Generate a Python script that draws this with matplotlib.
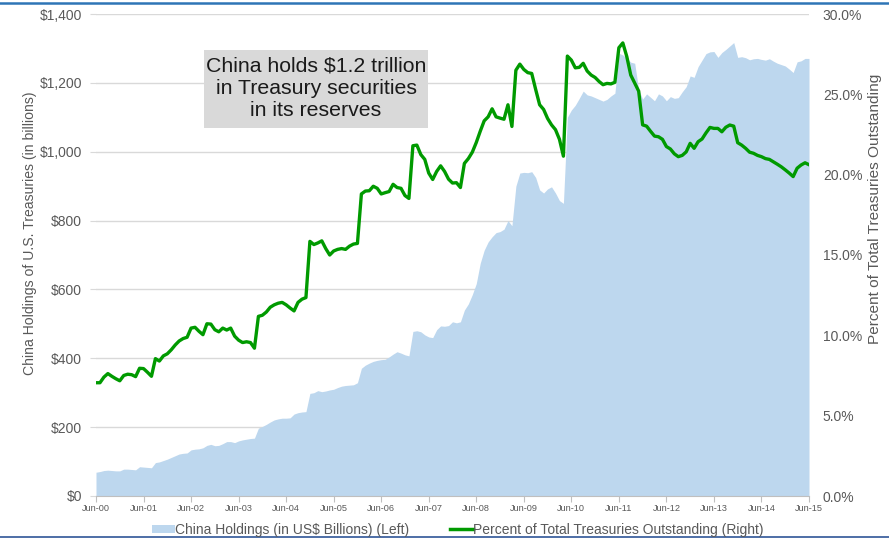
import matplotlib.pyplot as plt
import numpy as np
from matplotlib.lines import Line2D
from matplotlib.patches import Patch, Rectangle
from matplotlib.ticker import FuncFormatter

plt.rcParams['font.family'] = ['Liberation Sans', 'DejaVu Sans']

# monthly, Jun-2000 .. Jun-2015
year_labels = ['Jun-00', 'Jun-01', 'Jun-02', 'Jun-03', 'Jun-04', 'Jun-05', 'Jun-06', 'Jun-07',
               'Jun-08', 'Jun-09', 'Jun-10', 'Jun-11', 'Jun-12', 'Jun-13', 'Jun-14', 'Jun-15']

# China holdings of US Treasuries, $ billions
holdings = [
    69, 71, 74, 75, 74, 73, 73, 78, 78, 77, 76, 85,
    84, 83, 82, 97, 99, 103, 107, 112, 117, 122, 124, 125,
    134, 136, 137, 140, 147, 150, 146, 147, 152, 158, 158, 155,
    160, 163, 165, 167, 168, 197, 202, 208, 215, 221, 224, 226,
    226, 227, 238, 242, 244, 245, 298, 300, 306, 303, 305, 308,
    310, 315, 319, 321, 322, 323, 329, 371, 380, 386, 391, 394,
    396, 397, 404, 412, 419, 415, 410, 407, 478, 480, 477, 468,
    462, 460, 483, 494, 493, 495, 506, 503, 506, 540, 558, 585,
    617, 676, 714, 738, 753, 765, 768, 775, 800, 785, 900, 938,
    940, 939, 942, 925, 889, 880, 892, 898, 880, 858, 850, 1100,
    1121, 1135, 1155, 1176, 1165, 1162, 1157, 1152, 1147, 1152, 1162, 1170,
    1286, 1281, 1272, 1260, 1257, 1180, 1153, 1168, 1158, 1148, 1168, 1162,
    1148, 1160, 1155, 1157, 1174, 1189, 1220, 1216, 1247, 1266, 1285, 1290,
    1291, 1274, 1288, 1297, 1307, 1317, 1274, 1276, 1273, 1267, 1270, 1271,
    1268, 1266, 1270, 1263, 1257, 1253, 1249, 1240, 1230, 1261, 1264, 1271,
    1271,
]

# share of total treasuries outstanding, %
share_pct = [
    7.05, 7.05, 7.4, 7.62, 7.45, 7.3, 7.17, 7.5, 7.58, 7.55, 7.43, 7.95,
    7.93, 7.7, 7.45, 8.55, 8.4, 8.72, 8.85, 9.1, 9.4, 9.65, 9.8, 9.88,
    10.45, 10.5, 10.25, 10.04, 10.72, 10.7, 10.35, 10.22, 10.45, 10.33, 10.45, 9.95,
    9.7, 9.55, 9.6, 9.55, 9.2, 11.18, 11.25, 11.45, 11.75, 11.9, 12.0, 12.05,
    11.9, 11.7, 11.52, 12.05, 12.25, 12.35, 15.85, 15.65, 15.75, 15.88, 15.4, 15.0,
    15.25, 15.35, 15.4, 15.35, 15.55, 15.68, 15.72, 18.8, 18.98, 19.0, 19.28, 19.15,
    18.8, 18.88, 18.95, 19.4, 19.2, 19.15, 18.7, 18.52, 21.8, 21.84, 21.25, 20.95,
    20.1, 19.7, 20.2, 20.55, 20.2, 19.72, 19.48, 19.5, 19.2, 20.7, 21.0, 21.4,
    22.0, 22.7, 23.35, 23.6, 24.1, 23.6, 23.52, 23.45, 24.35, 23.0, 26.5, 26.88,
    26.55, 26.35, 26.3, 25.3, 24.35, 24.06, 23.5, 23.1, 22.8, 22.2, 21.15, 27.38,
    27.13, 26.65, 26.68, 26.93, 26.45, 26.2, 26.05, 25.8, 25.6, 25.68, 25.65, 25.75,
    27.9, 28.2, 27.35, 26.2, 25.7, 25.2, 23.1, 23.02, 22.7, 22.4, 22.36, 22.2,
    21.75, 21.6, 21.3, 21.12, 21.2, 21.42, 21.95, 21.64, 22.05, 22.22, 22.6, 22.94,
    22.88, 22.88, 22.67, 22.95, 23.09, 23.02, 21.99, 21.84, 21.64, 21.4, 21.33, 21.2,
    21.12, 21.0, 20.95, 20.8, 20.65, 20.49, 20.3, 20.1, 19.88, 20.4, 20.6, 20.74,
    20.62,
]

months = np.arange(len(holdings))

AREA_COL = '#bdd7ee'
LINE_COL = '#009a00'
TXT_COL = '#595959'
GRID_COL = '#d9d9d9'

W, H = 889, 540
fig = plt.figure(figsize=(W / 100, H / 100), dpi=100)
ax = fig.add_axes([96 / W, 1 - 496 / H, (809 - 96) / W, (496 - 14) / H])
ax2 = ax.twinx()

# holdings area (left axis)
ax.fill_between(months, holdings, 0, color=AREA_COL, lw=0, zorder=2)
ax.set_xlim(0, 180)
ax.set_ylim(0, 1400)
ax.set_yticks(np.arange(0, 1401, 200))
ax.yaxis.set_major_formatter(FuncFormatter(lambda v, p: '${:,.0f}'.format(v)))
ax.set_xticks(np.arange(0, 181, 12))
ax.set_xticklabels(year_labels)
ax.grid(axis='y', color=GRID_COL, lw=1.0, zorder=0)
ax.set_axisbelow(True)
for s in ['top', 'right', 'left']:
    ax.spines[s].set_visible(False)
ax.spines['bottom'].set_color('#bfbfbf')
ax.tick_params(axis='x', colors='#bfbfbf', labelcolor=TXT_COL, labelsize=6.6, length=4, pad=2)
ax.tick_params(axis='y', colors='#d9d9d9', labelcolor=TXT_COL, labelsize=10, length=4, pad=6)
ax.set_ylabel('China Holdings of U.S. Treasuries (in billions)', color=TXT_COL, fontsize=10.1)
ax.yaxis.set_label_coords(-0.083, 0.545)

# share line (right axis)
ax2.plot(months, share_pct, color=LINE_COL, lw=2.4, solid_joinstyle='round', zorder=3)
ax2.set_ylim(0, 30)
ax2.set_yticks(np.arange(0, 31, 5))
ax2.yaxis.set_major_formatter(FuncFormatter(lambda v, p: '{:.1f}%'.format(v)))
for s in ax2.spines.values():
    s.set_visible(False)
ax2.tick_params(axis='y', length=0, labelcolor=TXT_COL, labelsize=10, pad=10)
ax2.set_ylabel('Percent of Total Treasuries Outstanding', color=TXT_COL, fontsize=11.1, rotation=90)
ax2.yaxis.set_label_coords(1.083, 0.595)

# callout box
ax2.add_patch(Rectangle((0.1515, 0.7635), 0.3142, 0.1618, transform=ax.transAxes,
                        fc='#d9d9d9', ec='none', zorder=4))
ax2.text(0.3086, 0.846, 'China holds $1.2 trillion\nin Treasury securities\nin its reserves',
         transform=ax.transAxes, ha='center', va='center', fontsize=15.3, color='#1a1a1a',
         linespacing=1.2, zorder=5)

# legend under the plot
handles = [Patch(facecolor=AREA_COL, edgecolor='none'),
           Line2D([], [], color=LINE_COL, lw=2.5)]
fig.legend(handles, ['China Holdings (in US$ Billions) (Left)',
                     'Percent of Total Treasuries Outstanding (Right)'],
           loc='center', bbox_to_anchor=(0.515, 0.019), ncol=2, frameon=False,
           fontsize=10, handlelength=1.65, handleheight=0.45, handletextpad=0.05,
           columnspacing=2.9, labelcolor=TXT_COL)

# slide rules at top and bottom
fig.add_artist(Line2D([0, 1], [1 - 3 / H, 1 - 3 / H], color='#2e75b6', lw=1.8, transform=fig.transFigure))
fig.add_artist(Line2D([0, 1], [3 / H, 3 / H], color='#2f5597', lw=1.2, transform=fig.transFigure))

fig.savefig('out.png', dpi=100)
